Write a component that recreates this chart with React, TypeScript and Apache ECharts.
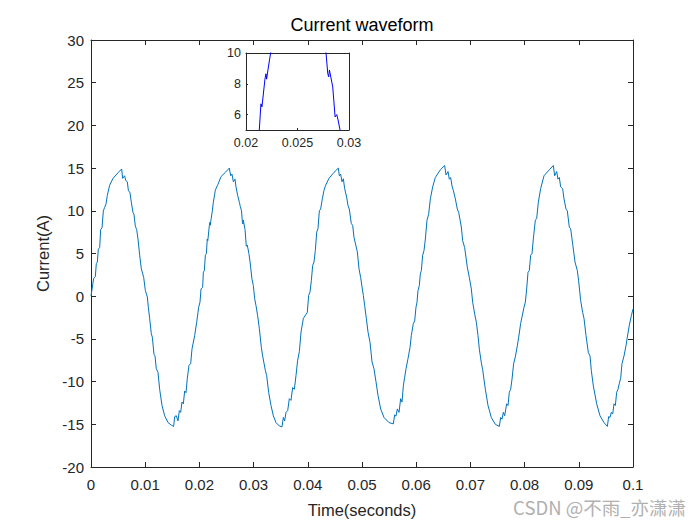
import React, { useEffect, useRef } from "react";
import * as echarts from "echarts";

// Time samples (seconds)
const timeS: number[] = [
  0, 0.00049, 0.0008, 0.00098, 0.00117, 0.00135, 0.0016, 0.00178, 0.00203, 0.00228,
  0.00252, 0.00277, 0.00301, 0.00344, 0.00406, 0.00498, 0.00566, 0.00584, 0.00621, 0.0064,
  0.0067, 0.00689, 0.0072, 0.00744, 0.00775, 0.00793, 0.00818, 0.00843, 0.00867, 0.00898,
  0.00929, 0.00972, 0.01003, 0.0104, 0.01058, 0.01082, 0.01113, 0.01132, 0.01162, 0.01181,
  0.01205, 0.01236, 0.01267, 0.0131, 0.01359, 0.01421, 0.01482, 0.01525, 0.01544, 0.01574,
  0.01605, 0.0163, 0.01654, 0.01679, 0.01704, 0.01728, 0.01753, 0.01777, 0.01808, 0.01839,
  0.01863, 0.01913, 0.0195, 0.01974,
  0.01986, 0.02011, 0.0203, 0.0206, 0.02073, 0.02091, 0.0211, 0.02129, 0.02145, 0.02155,
  0.02184, 0.02194, 0.022, 0.02213, 0.02239, 0.02257, 0.02294, 0.02319, 0.02343, 0.02399,
  0.02478, 0.02552, 0.02577, 0.02601, 0.02626, 0.02657, 0.02675, 0.02706, 0.02737, 0.02755,
  0.02777, 0.02794, 0.02803, 0.0281, 0.02842, 0.02865, 0.02881, 0.02894, 0.02913, 0.02935,
  0.0297, 0.02995, 0.0302, 0.03044, 0.03075, 0.03106, 0.03143, 0.03167, 0.03217, 0.03241,
  0.03278, 0.03321, 0.03364, 0.03413, 0.03475, 0.03524, 0.03549, 0.03573, 0.03598, 0.03629,
  0.03659, 0.0369, 0.03721, 0.03752, 0.03782, 0.03813, 0.03844, 0.03875, 0.03918,
  0.03991, 0.04016, 0.04041, 0.04065, 0.0409, 0.04114, 0.04139, 0.04164, 0.04188, 0.04213,
  0.04237, 0.04268, 0.04299, 0.0433, 0.04391, 0.04483, 0.04563, 0.04582, 0.04606, 0.04631,
  0.04656, 0.0468, 0.04717, 0.04742, 0.04766, 0.04803, 0.04828, 0.04852, 0.04914, 0.04945,
  0.04975, 0.05006, 0.05025, 0.05049, 0.0508, 0.05111, 0.05148, 0.05185, 0.05221, 0.05258,
  0.05295, 0.05344, 0.05406, 0.05498, 0.05578, 0.05603, 0.05627, 0.05652, 0.05683, 0.05713,
  0.05738, 0.05763, 0.05787, 0.05812, 0.05849, 0.05886, 0.0591, 0.05947,
  0.05972, 0.05996, 0.06015, 0.06033, 0.06058, 0.06076, 0.06095, 0.06119, 0.06144, 0.06169,
  0.06199, 0.0623, 0.06261, 0.06304, 0.06353, 0.06445, 0.06525, 0.0655, 0.06587, 0.06611,
  0.06636, 0.06661, 0.06685, 0.06722, 0.06759, 0.06784, 0.06833, 0.06857, 0.06894, 0.06943,
  0.0698, 0.07017, 0.07042, 0.07079, 0.0711, 0.0714, 0.07165, 0.07202, 0.07226, 0.07276,
  0.07325, 0.07386, 0.0746, 0.07534, 0.07558, 0.07583, 0.07608, 0.07632, 0.07669, 0.07694,
  0.07718, 0.07743, 0.07768, 0.07798, 0.07829, 0.07866, 0.07891, 0.07927,
  0.07989, 0.08014, 0.08038, 0.08063, 0.08087, 0.08112, 0.08137, 0.08161, 0.08198, 0.08223,
  0.08253, 0.08296, 0.08358, 0.08456, 0.0853, 0.08555, 0.08592, 0.08616, 0.08641, 0.08665,
  0.08702, 0.08727, 0.08764, 0.08788, 0.08825, 0.0885, 0.08887, 0.0893, 0.08973, 0.08997,
  0.09034, 0.09071, 0.09096, 0.09133, 0.09176, 0.09207, 0.09231, 0.09268, 0.0933, 0.09391,
  0.09465, 0.09527, 0.09551, 0.09576, 0.096, 0.09625, 0.0965, 0.09674, 0.09699, 0.09723,
  0.09748, 0.09773, 0.09797, 0.09834, 0.09871, 0.09895, 0.09932, 0.09969, 0.1,
];

// Current values (A) at the times above
const currentA: number[] = [
  0, 2.1, 2.3, 3.8, 4.0, 5.5, 5.7, 7.8, 8.0, 10.0,
  10.4, 10.8, 11.8, 13.0, 13.8, 14.45, 14.9, 13.8, 14.1, 13.55,
  13.4, 12.4, 12.1, 11.0, 9.8, 9.6, 8.2, 7.8, 6.7, 4.8,
  3.2, 2.2, 0.66, -0.1, -1.3, -2.6, -4.4, -4.8, -6.8, -7.0,
  -8.5, -8.9, -10.9, -12.8, -14.0, -14.8, -15.1, -15.25, -14.1, -14.0,
  -14.6, -13.4, -13.6, -12.4, -12.6, -11.1, -11.3, -9.6, -8.1, -7.9,
  -6.2, -4.6, -3.05, -1.9,
  -1.3, -0.7, 0.85, 1.05, 2.8, 3.0, 4.8, 5.0, 6.7, 6.5,
  8.3, 8.65, 8.3, 8.9, 10.0, 11.0, 12.4, 12.8, 13.1, 14.0,
  14.5, 15.0, 14.1, 14.3, 13.4, 13.7, 12.8, 11.8, 11.0, 10.5,
  10.0, 8.65, 8.45, 8.9, 7.8, 5.85, 6.0, 5.65, 5.0, 4.0,
  2.0, 1.25, -0.3, -1.1, -2.3, -3.8, -6.0, -7.0, -8.7, -9.3,
  -11.25, -12.8, -14.0, -14.8, -15.2, -15.3, -14.2, -14.6, -13.6, -13.4,
  -12.0, -12.2, -10.7, -10.9, -9.3, -7.5, -6.5, -4.2, -2.6,
  -1.9, 0.1, 0.5, 1.8, 3.6, 4.0, 5.35, 7.5, 7.9, 10.0,
  10.2, 11.4, 12.4, 13.0, 13.8, 14.5, 15.0, 14.1, 14.3, 13.4,
  13.75, 12.6, 11.6, 10.6, 10.2, 8.5, 8.3, 6.9, 5.2, 3.2,
  2.2, 0.85, 0.1, -1.1, -2.6, -4.2, -5.4, -7.7, -8.5, -10.0,
  -11.6, -13.2, -14.2, -14.8, -14.95, -13.9, -14.05, -13.2, -13.6, -12.0,
  -12.4, -10.5, -9.5, -8.5, -7.3, -6.0, -4.6, -3.2,
  -2.9, -1.3, -0.7, 0.66, 1.25, 2.6, 3.0, 4.8, 5.35, 6.7,
  8.9, 9.6, 11.4, 12.8, 13.9, 14.8, 15.3, 14.2, 14.6, 13.7,
  13.9, 12.9, 12.4, 11.4, 10.2, 9.8, 8.1, 6.5, 5.7, 3.4,
  2.2, 0.85, -0.7, -2.1, -3.05, -4.6, -6.2, -7.8, -8.6, -10.9,
  -12.8, -14.2, -15.0, -15.25, -14.2, -14.4, -13.6, -14.0, -12.6, -12.8,
  -11.25, -10.9, -9.7, -7.9, -7.1, -5.8, -4.8, -3.2,
  -1.3, -0.7, 0.85, 2.8, 3.0, 4.8, 5.0, 6.7, 8.9, 9.1,
  11.0, 12.6, 14.1, 14.8, 15.3, 14.1, 14.6, 13.7, 13.9, 12.8,
  12.6, 11.4, 10.2, 10.0, 8.1, 7.9, 6.1, 4.0, 3.0, 1.8,
  -0.5, -1.9, -2.6, -4.6, -6.6, -7.0, -8.7, -10.5, -12.6, -14.0,
  -14.8, -15.25, -14.1, -14.2, -13.6, -13.8, -12.6, -12.8, -11.25, -10.9,
  -10.2, -9.6, -7.9, -7.0, -5.8, -4.8, -3.4, -2.3, -1.5,
];

const mainXRange = [0, 0.1];
const mainXStep = 0.01;
const mainYRange = [-20, 30];
const mainYStep = 5;
const insetXRange = [0.02, 0.03];
const insetXTicks = [0.02, 0.025, 0.03];
const insetYRange = [5, 10];
const insetYTicks = [6, 8, 10];

const titleText = "Current waveform";
const xName = "Time(seconds)";
const yName = "Current(A)";
const watermark = "CSDN @不雨_亦潇潇";

const FONT = "'Liberation Sans', Arial, Helvetica, sans-serif";
const AX = "#262626";

const fmt = (v: number) => String(parseFloat(v.toFixed(4)));

export default function App() {
  const ref = useRef<HTMLDivElement>(null);
  useEffect(() => {
    if (!ref.current) return;
    const chart = echarts.init(ref.current, undefined, { renderer: "svg" });
    const pts = timeS.map((t, i) => [t, currentA[i]]);

    const lineAx = { show: true, onZero: false, lineStyle: { color: AX, width: 1 } };
    const tickIn = (len: number) => ({ show: true, inside: true, length: len, lineStyle: { color: AX, width: 1 } });

    chart.setOption({
      animation: false,
      backgroundColor: "#ffffff",
      textStyle: { fontFamily: FONT },
      grid: [
        { left: 91, top: 40, width: 542, height: 427, containLabel: false },
        { left: 246, top: 53, width: 103, height: 77, containLabel: false, show: true, backgroundColor: "#ffffff", borderWidth: 0 },
      ],
      xAxis: [
        {
          gridIndex: 0, type: "value", min: mainXRange[0], max: mainXRange[1], interval: mainXStep,
          axisLine: lineAx, axisTick: tickIn(5), splitLine: { show: false },
          axisLabel: { color: AX, fontSize: 15, margin: 10, fontFamily: FONT, formatter: fmt },
          name: xName, nameLocation: "middle", nameGap: 34,
          nameTextStyle: { color: AX, fontSize: 16.5, fontFamily: FONT },
        },
        {
          gridIndex: 0, type: "value", position: "top", min: mainXRange[0], max: mainXRange[1], interval: mainXStep,
          axisLine: lineAx, axisTick: tickIn(5), splitLine: { show: false }, axisLabel: { show: false },
        },
        {
          gridIndex: 1, type: "value", min: insetXRange[0], max: insetXRange[1],
          axisLine: lineAx, axisTick: { ...tickIn(2), customValues: insetXTicks }, splitLine: { show: false },
          axisLabel: { color: AX, fontSize: 12.5, margin: 6, fontFamily: FONT, customValues: insetXTicks, formatter: fmt },
        },
        {
          gridIndex: 1, type: "value", position: "top", min: insetXRange[0], max: insetXRange[1],
          axisLine: lineAx, axisTick: { show: false }, splitLine: { show: false }, axisLabel: { show: false },
        },
      ],
      yAxis: [
        {
          gridIndex: 0, type: "value", min: mainYRange[0], max: mainYRange[1], interval: mainYStep,
          axisLine: lineAx, axisTick: tickIn(5), splitLine: { show: false },
          axisLabel: { color: AX, fontSize: 15, margin: 7, fontFamily: FONT },
          name: yName, nameLocation: "middle", nameGap: 37,
          nameTextStyle: { color: AX, fontSize: 16.5, fontFamily: FONT },
        },
        {
          gridIndex: 0, type: "value", position: "right", min: mainYRange[0], max: mainYRange[1], interval: mainYStep,
          axisLine: lineAx, axisTick: tickIn(5), splitLine: { show: false }, axisLabel: { show: false },
        },
        {
          gridIndex: 1, type: "value", min: insetYRange[0], max: insetYRange[1],
          axisLine: lineAx, axisTick: { ...tickIn(2), customValues: insetYTicks }, splitLine: { show: false },
          axisLabel: { color: AX, fontSize: 12.5, margin: 5, fontFamily: FONT, customValues: insetYTicks },
        },
        {
          gridIndex: 1, type: "value", position: "right", min: insetYRange[0], max: insetYRange[1],
          axisLine: lineAx, axisTick: { show: false }, splitLine: { show: false }, axisLabel: { show: false },
        },
      ],
      series: [
        {
          type: "line", xAxisIndex: 0, yAxisIndex: 0, data: pts, showSymbol: false, symbol: "none",
          lineStyle: { color: "#0072BD", width: 1 }, clip: true,
        },
        {
          type: "line", xAxisIndex: 2, yAxisIndex: 2, data: pts, showSymbol: false, symbol: "none",
          lineStyle: { color: "#0000FF", width: 1 }, clip: true,
        },
      ],
      graphic: [
        {
          type: "text", x: 362, y: 25,
          style: { text: titleText, align: "center", verticalAlign: "middle", fontSize: 18, fill: "#000000", fontFamily: FONT },
        },
        {
          type: "text", x: 686, y: 507,
          style: { text: watermark, align: "right", verticalAlign: "middle", fontSize: 18.5, fill: "#b0b0b0", fontFamily: "'Noto Sans CJK SC', 'Liberation Sans', sans-serif" },
        },
      ],
    });
    return () => chart.dispose();
  }, []);
  return <div ref={ref} style={{ position: "fixed", left: 0, top: 0, width: 700, height: 525 }} />;
}
